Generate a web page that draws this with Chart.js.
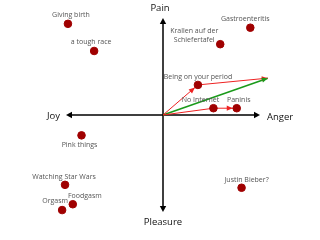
<!DOCTYPE html>
<html><head><meta charset="utf-8">
<script src="https://cdn.jsdelivr.net/npm/chart.js@4/dist/chart.umd.min.js"></script>
<style>html,body{margin:0;padding:0;background:#fff}#wrap{width:320px;height:240px}</style>
</head><body><div id="wrap"><canvas id="c" width="320" height="240"></canvas></div>
<script>
// ---- data ----
const labels = ["Giving birth","a tough race","Gastroenteritis","Krallen auf der\nSchiefertafel","Being on your period","No Internet","Paninis","Pink things","Watching Star Wars","Foodgasm","Orgasm","Justin Bieber?"];
const xValues = [-9.8,-7.1,9.0,5.9,3.6,5.2,7.6,-8.4,-10.1,-9.3,-10.4,8.1];
const yValues = [9.4,6.6,9.0,7.3,3.1,0.7,0.7,-2.1,-7.2,-9.2,-9.8,-7.5];
const axisLabels = {top:"Pain", bottom:"Pleasure", left:"Joy", right:"Anger"};
const axisMin = -10, axisMax = 10;
// red path 1: origin -> period -> end ; red path 2: origin -> No Internet -> Paninis ; green: origin -> end
const red1a = [{x:0,y:0},{x:3.6,y:3.1}];
const red1b = [{x:3.6,y:3.1},{x:10.8,y:3.8}];
const red2a = [{x:0,y:0},{x:5.2,y:0.7}];
const red2b = [{x:5.2,y:0.7},{x:7.6,y:0.7}];
const green = [{x:0,y:0},{x:10.8,y:3.8}];

// ---- label placement (style) ----
const labelOffsets = [[3,-9],[-3,-9],[-5,-9],[-26,-13],[0,-8],[-13,-8],[2,-8],[-2,10],[-1,-8],[12,-8],[-7,-9],[5,-8]];

const points = xValues.map((x,i)=>({x, y:yValues[i]}));

const arrowPlugin = {
  id:'arrows',
  afterDatasetsDraw(chart){
    const ctx = chart.ctx;
    chart.data.datasets.forEach((ds,i)=>{
      if(!ds.arrowHead) return;
      const meta = chart.getDatasetMeta(i);
      const p = meta.data;
      const a = p[p.length-2], b = p[p.length-1];
      const ang = Math.atan2(b.y-a.y, b.x-a.x);
      const back = ds.arrowBack||0;
      const ex = b.x - Math.cos(ang)*back, ey = b.y - Math.sin(ang)*back;
      const L = ds.arrowLen||6, W = ds.arrowW||2.6;
      ctx.save();
      ctx.fillStyle = ds.borderColor;
      ctx.beginPath();
      ctx.moveTo(ex,ey);
      ctx.lineTo(ex - L*Math.cos(ang) + W*Math.sin(ang), ey - L*Math.sin(ang) - W*Math.cos(ang));
      ctx.lineTo(ex - L*Math.cos(ang) - W*Math.sin(ang), ey - L*Math.sin(ang) + W*Math.cos(ang));
      ctx.closePath(); ctx.fill();
      ctx.restore();
    });
  }
};

const axesPlugin = {
  id:'crossAxes',
  beforeDatasetsDraw(chart){
    const ctx = chart.ctx, xs = chart.scales.x, ys = chart.scales.y;
    const x0 = xs.getPixelForValue(0), y0 = ys.getPixelForValue(0);
    const xl = xs.getPixelForValue(axisMin), xr = xs.getPixelForValue(axisMax);
    const yt = ys.getPixelForValue(axisMax), yb = ys.getPixelForValue(axisMin);
    ctx.save();
    ctx.strokeStyle = '#000'; ctx.fillStyle='#000'; ctx.lineWidth = 1.5;
    ctx.beginPath(); ctx.moveTo(xl+2,y0); ctx.lineTo(xr-2,y0); ctx.moveTo(x0,yt+2); ctx.lineTo(x0,yb-2); ctx.stroke();
    const head=(x,y,dx,dy)=>{ctx.beginPath();ctx.moveTo(x,y);ctx.lineTo(x-dx*6+dy*3.2,y-dy*6-dx*3.2);ctx.lineTo(x-dx*6-dy*3.2,y-dy*6+dx*3.2);ctx.closePath();ctx.fill();};
    head(xr,y0,1,0); head(xl,y0,-1,0); head(x0,yt,0,-1); head(x0,yb,0,1);
    ctx.font = '9.5px "Open Sans", sans-serif'; ctx.fillStyle='#111';
    ctx.textBaseline='middle';
    ctx.textAlign='center'; ctx.fillText(axisLabels.top, x0-3, yt-10); ctx.fillText(axisLabels.bottom, x0, yb+10);
    ctx.textAlign='right'; ctx.fillText(axisLabels.left, xl-6, y0+1);
    ctx.textAlign='left'; ctx.fillText(axisLabels.right, xr+7, y0+2);
    ctx.restore();
  }
};

const labelPlugin = {
  id:'ptLabels',
  afterDatasetsDraw(chart){
    const ctx = chart.ctx;
    const meta = chart.getDatasetMeta(0);
    ctx.save();
    ctx.font = '7px "Open Sans", sans-serif'; ctx.fillStyle='#555';
    ctx.textAlign='center'; ctx.textBaseline='middle';
    meta.data.forEach((el,i)=>{
      const lines = labels[i].split('\n');
      const [dx,dy] = labelOffsets[i];
      lines.forEach((ln,k)=>ctx.fillText(ln, el.x+dx, el.y+dy+k*9));
    });
    ctx.restore();
  }
};

const lineDs = (data,color,w,head,back)=>({type:'line',data,borderColor:color,borderWidth:w,pointRadius:0,fill:false,tension:0,order:2,clip:false,arrowHead:head,arrowBack:back});

new Chart(document.getElementById('c'),{
  type:'scatter',
  data:{datasets:[
    {data:points,backgroundColor:'#a00000',borderColor:'#a00000',pointRadius:3.8,pointHoverRadius:3.8,order:0,clip:false},
    lineDs(red1a,'#ee2222',1,true,4),
    lineDs(red1b,'#ee2222',1,true,0),
    lineDs(red2a,'#ee2222',1,false,0),
    lineDs(red2b,'#ee2222',1,true,4),
    lineDs(green,'#1a9a1a',1.6,true,0)
  ]},
  options:{
    responsive:false,animation:false,events:[],
    layout:{padding:{left:66,right:60,top:18,bottom:28}},
    plugins:{legend:{display:false},tooltip:{enabled:false}},
    scales:{
      x:{type:'linear',min:axisMin,max:axisMax,display:false},
      y:{type:'linear',min:axisMin,max:axisMax,display:false}
    }
  },
  plugins:[axesPlugin,arrowPlugin,labelPlugin]
});
</script></body></html>
